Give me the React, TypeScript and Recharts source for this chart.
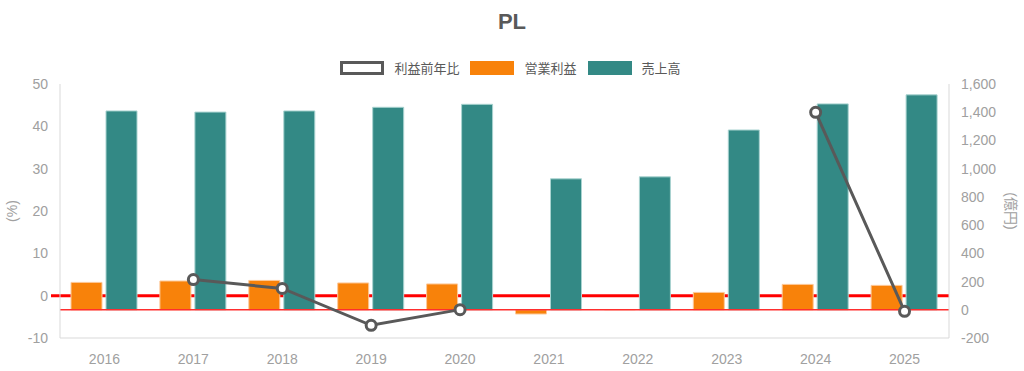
import { ComposedChart, Bar, Line, XAxis, YAxis, ReferenceLine, Legend } from 'recharts';

const years = ['2016', '2017', '2018', '2019', '2020', '2021', '2022', '2023', '2024', '2025'];
const sales = [1409, 1401, 1409, 1435, 1456, 928, 942, 1274, 1459, 1523];
const profit = [194, 204, 208, 190, 183, -30, 2, 123, 180, 173];
const profitYoY = [null, 3.8, 1.7, -7.0, -3.3, null, null, null, 43.3, -3.7];

const pctTicks = [-10, 0, 10, 20, 30, 40, 50];
const yenTicks = [-200, 0, 200, 400, 600, 800, 1000, 1200, 1400, 1600];

const legendOrder = ['利益前年比', '営業利益', '売上高'];

const data = years.map((year, i) => ({
  year,
  sales: sales[i],
  profit: profit[i],
  yoy: profitYoY[i],
}));

const FONT = '"Liberation Sans", Arial, "Noto Sans CJK JP", sans-serif';
const TEXT = '#595959';
const TICK = '#a0a0a0';
const AXIS = '#d9d9d9';

const tickStyle = { fill: TICK, fontSize: 14 };

// thick red zero line on the % axis, runs a little past the left axis
const ZeroLine = (p: any) => (
  <line x1={p.x1 - 9} y1={p.y1} x2={p.x2} y2={p.y2} stroke="#ff0000" strokeWidth={3} />
);

function LegendBox(props: any) {
  const items = [...(props.payload || [])].sort(
    (a: any, b: any) => legendOrder.indexOf(a.value) - legendOrder.indexOf(b.value)
  );
  return (
    <div style={{ display: 'flex', justifyContent: 'center', alignItems: 'center', fontFamily: FONT, paddingLeft: 8 }}>
      {items.map((it: any) => (
        <div key={it.value} style={{ display: 'flex', alignItems: 'center', marginRight: 11 }}>
          {it.type === 'line' ? (
            <div style={{ width: 38, height: 8, border: `3px solid ${TEXT}`, background: '#fff' }} />
          ) : (
            <div style={{ width: 44, height: 14, background: it.color }} />
          )}
          <span style={{ marginLeft: 10, fontSize: 13, color: TEXT }}>{it.value}</span>
        </div>
      ))}
    </div>
  );
}

const AxisTitle = (text: string, x: number, angle: number) => (props: any) => {
  const vb = props.viewBox || {};
  const cy = (vb.y ?? 84) + (vb.height ?? 254) / 2;
  return (
    <text
      x={x}
      y={cy}
      transform={`rotate(${angle} ${x} ${cy})`}
      textAnchor="middle"
      dominantBaseline="central"
      fill={TICK}
      fontSize={14}
      fontFamily={FONT}
    >
      {text}
    </text>
  );
};

export default function App() {
  return (
    <div style={{ position: 'absolute', left: 0, top: 0, width: 1024, height: 371, background: '#fff', fontFamily: FONT }}>
      <div
        style={{
          position: 'absolute',
          top: 8,
          left: 0,
          width: 1024,
          textAlign: 'center',
          fontSize: 22,
          fontWeight: 'bold',
          color: TEXT,
          lineHeight: '28px',
        }}
      >
        PL
      </div>
      <ComposedChart
        width={1024}
        height={371}
        data={data}
        margin={{ top: 84, right: 10, bottom: 3, left: 10 }}
        barGap={4}
        style={{ fontFamily: FONT }}
      >
        <XAxis
          dataKey="year"
          tick={tickStyle}
          tickLine={false}
          axisLine={{ stroke: AXIS }}
          tickMargin={10}
          height={30}
        />
        <YAxis
          yAxisId="left"
          domain={[-10, 50]}
          ticks={pctTicks}
          tick={tickStyle}
          tickLine={false}
          axisLine={{ stroke: AXIS }}
          tickMargin={6}
          width={50}
          label={{ content: AxisTitle('(%)', 12, -90) }}
        />
        <YAxis
          yAxisId="right"
          orientation="right"
          domain={[-200, 1600]}
          ticks={yenTicks}
          tick={tickStyle}
          tickLine={false}
          axisLine={{ stroke: AXIS }}
          tickMargin={6}
          width={65}
          tickFormatter={(v: number) => v.toLocaleString('en-US')}
          label={{ content: AxisTitle('(億円)', 1011, 90) }}
        />
        <ReferenceLine y={0} yAxisId="left" shape={ZeroLine} ifOverflow="visible" zIndex={100} />
        <Bar
          dataKey="profit"
          name="営業利益"
          yAxisId="right"
          fill="#f8820a"
          stroke="#fdc99a"
          strokeWidth={1}
          barSize={31}
          isAnimationActive={false}
        />
        <Bar
          dataKey="sales"
          name="売上高"
          yAxisId="right"
          fill="#338985"
          stroke="#a9d3d0"
          strokeWidth={1}
          barSize={31}
          isAnimationActive={false}
        />
        <ReferenceLine y={0} yAxisId="right" stroke="#ff2e2e" strokeWidth={1.5} zIndex={350} />
        <Line
          dataKey="yoy"
          name="利益前年比"
          yAxisId="left"
          type="linear"
          stroke={TEXT}
          strokeWidth={3}
          dot={{ r: 5, fill: '#fff', stroke: TEXT, strokeWidth: 3 }}
          activeDot={false}
          isAnimationActive={false}
        />
        <Legend
          layout="horizontal"
          verticalAlign="middle"
          align="center"
          content={LegendBox}
          wrapperStyle={{ top: 58, left: 0, width: 1024 }}
        />
      </ComposedChart>
    </div>
  );
}
